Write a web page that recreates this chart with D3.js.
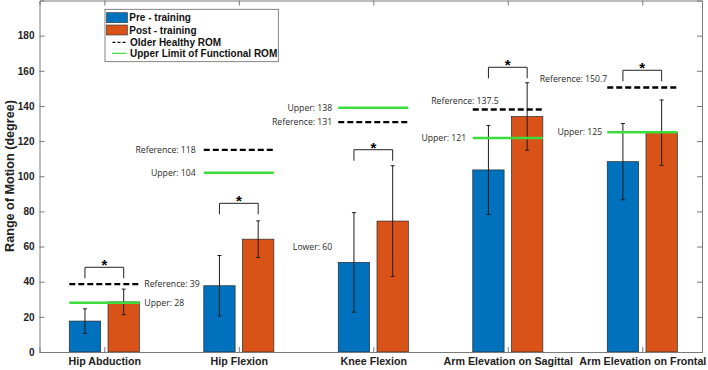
<!DOCTYPE html>
<html>
<head>
<meta charset="utf-8">
<script src="https://d3js.org/d3.v7.min.js"></script>
<style>
  body { margin: 0; background: #fff; }
  svg { display: block; }
</style>
</head>
<body>
<svg id="chart" width="708" height="370"></svg>
<script>
// categories and values
const categories = ["Hip Abduction", "Hip Flexion", "Knee Flexion", "Arm Elevation on Sagittal", "Arm Elevation on Frontal"];
const preMean  = [17.6, 37.7, 51.0, 103.6, 108.3];
const preSD    = [7.0, 17.2, 28.3, 25.3, 21.7];
const postMean = [28.5, 64.2, 74.5, 134.0, 124.8];
const postSD   = [7.3, 10.4, 31.5, 19.2, 18.6];
const refValue = [38.6, 115, 130.8, 138, 150.5];
const refText  = ["Reference: 39", "Reference: 118", "Reference: 131", "Reference: 137.5", "Reference: 150.7"];
const upperValue = [28, 102, 139, 121.8, 125];
const upperText  = ["Upper: 28", "Upper: 104", "Upper: 138", "Upper: 121", "Upper: 125"];
const lowerValue = [null, null, 60, null, null];
const lowerText  = [null, null, "Lower: 60", null, null];
const sigTop = [48.2, 84.6, 115.1, 162, 160.3];
const yTicks = [0, 20, 40, 60, 80, 100, 120, 140, 160, 180];

const svg = d3.select("#chart");

const x = d3.scaleLinear().domain([0.518, 5.444]).range([39.5, 702]);
const y = d3.scaleLinear().domain([0, 200]).range([352, 0.5]);

const blue = "#0072BD", orange = "#D95319", green = "#3ddc3d";
const off = 0.144, bw = 0.233;
const axisCol = "#7a7a7a";

// label layout per category: [anchor, dx from line edge, dy]
const refLayout   = [["start", 5, 0], ["end", -8, 0], ["end", -6, 0], ["end", 26, -9], ["end", 0, -9]];
const upperLayout = [["start", 5, 0], ["end", -8, 0], ["end", -6, 0], ["end", -6.5, 0], ["end", -5, 0]];

const idx = d3.range(categories.length);

// bars
function bars(means, shift, color) {
  svg.append("g").selectAll("rect")
    .data(idx).enter().append("rect")
    .attr("x", i => x(i + 1 + shift - bw / 2))
    .attr("y", i => y(means[i]))
    .attr("width", x(bw) - x(0))
    .attr("height", i => y(0) - y(means[i]))
    .attr("fill", color)
    .attr("stroke", "#2a2a2a")
    .attr("stroke-width", 0.7);
}
bars(preMean, -off, blue);
bars(postMean, off, orange);

// error bars
function errs(means, sds, shift) {
  const g = svg.append("g").attr("stroke", "#1e1e1e").attr("stroke-width", 1);
  idx.forEach(i => {
    const cx = x(i + 1 + shift);
    const lo = y(means[i] - sds[i]), hi = y(means[i] + sds[i]);
    g.append("line").attr("x1", cx).attr("x2", cx).attr("y1", lo).attr("y2", hi);
    g.append("line").attr("x1", cx - 2).attr("x2", cx + 2).attr("y1", lo).attr("y2", lo);
    g.append("line").attr("x1", cx - 2).attr("x2", cx + 2).attr("y1", hi).attr("y2", hi);
  });
}
errs(preMean, preSD, -off);
errs(postMean, postSD, off);

// reference and functional lines
const lineL = i => x(i + 1 - off - bw / 2);
const lineR = i => x(i + 1 + off + bw / 2);

svg.append("g").selectAll("line")
  .data(idx).enter().append("line")
  .attr("x1", lineL).attr("x2", lineR)
  .attr("y1", i => y(refValue[i])).attr("y2", i => y(refValue[i]))
  .attr("stroke", "#000").attr("stroke-width", 2.4)
  .attr("stroke-dasharray", "6,3");

svg.append("g").selectAll("line")
  .data(idx).enter().append("line")
  .attr("x1", lineL).attr("x2", lineR)
  .attr("y1", i => y(upperValue[i])).attr("y2", i => y(upperValue[i]))
  .attr("stroke", green).attr("stroke-width", 2.4);

// annotation labels
function labels(vals, texts, layout) {
  svg.append("g").selectAll("text")
    .data(idx.filter(i => vals[i] != null)).enter().append("text")
    .attr("x", i => (layout[i][0] === "start" ? lineR(i) : lineL(i)) + layout[i][1])
    .attr("y", i => y(vals[i]) + layout[i][2])
    .attr("dy", "0.35em")
    .attr("text-anchor", i => layout[i][0])
    .attr("font-family", "'Open Sans', sans-serif")
    .attr("font-size", 8.7)
    .attr("fill", "#2a2a2a")
    .text(i => texts[i]);
}
labels(refValue, refText, refLayout);
labels(upperValue, upperText, upperLayout);
labels(lowerValue, lowerText, [null, null, ["end", -6, 0], null, null]);

// significance brackets
const sig = svg.append("g");
idx.forEach(i => {
  const x1 = x(i + 1 - off), x2 = x(i + 1 + off), yt = y(sigTop[i]), yb = yt + 11;
  sig.append("path")
    .attr("d", `M${x1},${yb}V${yt}H${x2}V${yb}`)
    .attr("fill", "none").attr("stroke", "#222").attr("stroke-width", 1);
  sig.append("text")
    .attr("x", (x1 + x2) / 2).attr("y", yt + 3)
    .attr("text-anchor", "middle")
    .attr("font-family", "'Liberation Sans', Arial, sans-serif")
    .attr("font-weight", "bold").attr("font-size", 15)
    .text("*");
});

// axes
const font = "'Liberation Sans', Arial, sans-serif";
const ax = svg.append("g").attr("font-family", font);

const axLeft = ax.append("g").attr("transform", "translate(39.5,0)")
  .call(d3.axisLeft(y).tickValues(yTicks).tickSize(-5).tickPadding(5));
const axRight = ax.append("g").attr("transform", "translate(702,0)")
  .call(d3.axisRight(y).tickValues(yTicks).tickSize(-5).tickFormat(""));
const axBottom = ax.append("g").attr("transform", "translate(0,352)")
  .call(d3.axisBottom(x).tickValues(idx.map(i => i + 1)).tickSize(-5).tickPadding(5)
    .tickFormat(d => categories[d - 1]));
const axTop = ax.append("g").attr("transform", "translate(0,0.5)")
  .call(d3.axisTop(x).tickValues(idx.map(i => i + 1)).tickSize(-5).tickFormat(""));

[axLeft, axRight, axBottom, axTop].forEach(g => {
  g.select(".domain").attr("stroke", axisCol);
  g.selectAll(".tick line").attr("stroke", axisCol);
  g.selectAll("text").attr("font-weight", "bold").attr("fill", "#222");
});
axLeft.selectAll("text").attr("font-size", 10);
axBottom.selectAll("text").attr("font-size", 10.7);

svg.append("text")
  .attr("transform", "translate(14,176) rotate(-90)")
  .attr("text-anchor", "middle")
  .attr("font-family", font).attr("font-weight", "bold").attr("font-size", 12.6)
  .attr("fill", "#222")
  .text("Range of Motion (degree)");

// legend
const lg = svg.append("g").attr("font-family", font).attr("font-weight", "bold").attr("font-size", 10);
lg.append("rect").attr("x", 105).attr("y", 9.3).attr("width", 173.3).attr("height", 52.4)
  .attr("fill", "#fff").attr("stroke", "#666").attr("stroke-width", 0.8);
lg.append("rect").attr("x", 106.5).attr("y", 12.7).attr("width", 21).attr("height", 10)
  .attr("fill", blue).attr("stroke", "#333").attr("stroke-width", 0.6);
lg.append("rect").attr("x", 106.5).attr("y", 25).attr("width", 21).attr("height", 10)
  .attr("fill", orange).attr("stroke", "#333").attr("stroke-width", 0.6);
lg.append("line").attr("x1", 112.5).attr("x2", 125.5).attr("y1", 42.3).attr("y2", 42.3)
  .attr("stroke", "#000").attr("stroke-width", 1.2).attr("stroke-dasharray", "3,2");
lg.append("line").attr("x1", 112).attr("x2", 126.5).attr("y1", 53.3).attr("y2", 53.3)
  .attr("stroke", green).attr("stroke-width", 1.2);
const legTexts = ["Pre - training", "Post - training", "Older Healthy ROM", "Upper Limit of Functional ROM"];
const legY = [17.7, 30, 42.3, 53.3];
const legX = [129.3, 129.3, 130, 130];
legTexts.forEach((t, i) => {
  lg.append("text").attr("x", legX[i]).attr("y", legY[i]).attr("dy", "0.36em")
    .attr("fill", "#111").text(t);
});
</script>
</body>
</html>
